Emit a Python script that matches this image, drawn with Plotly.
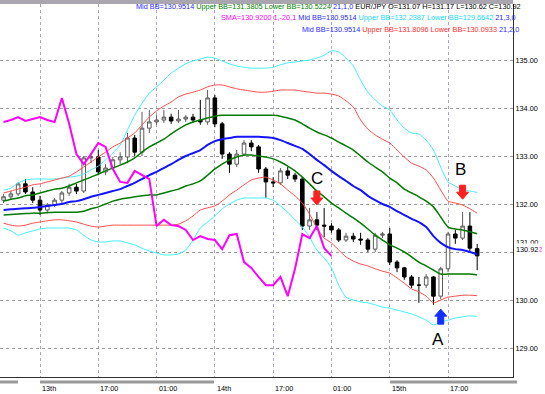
import pandas as pd
import plotly.graph_objects as go

# ---------------- data (EUR/JPY, hourly) ----------------
times = pd.date_range("2008-10-13 04:00", periods=66, freq="h")

opens = [132.08, 132.15, 132.21, 132.42, 132.25, 132.08, 131.875, 131.98, 132.08, 132.23,
         132.35, 132.27, 132.96, 132.98, 132.67, 132.75, 132.92, 132.98, 133.375, 133.08,
         133.58, 133.71, 133.75, 133.81, 133.73, 133.77, 133.81, 133.75, 133.71, 134.21,
         133.67, 133.04, 132.83, 133.04, 133.27, 133.19, 132.73, 132.46, 132.44, 132.69,
         132.60, 132.52, 131.54, 131.67, 131.56, 131.54, 131.46, 131.25, 131.33, 131.27,
         131.25, 131.06, 131.35, 131.375, 130.79, 130.67, 130.48, 130.31, 130.31, 130.48,
         130.08, 130.65, 131.375, 131.29, 131.54, 131.07]
highs = [132.21, 132.27, 132.46, 132.52, 132.35, 132.17, 132.02, 132.12, 132.27, 132.42,
         132.42, 133.00, 133.06, 133.125, 132.83, 132.98, 133.08, 133.48, 133.44, 133.92,
         133.96, 133.85, 133.96, 133.88, 133.96, 133.85, 133.88, 134.17, 134.375, 134.27,
         133.71, 133.08, 133.125, 133.33, 133.33, 133.23, 132.77, 132.56, 132.75, 132.77,
         132.65, 132.56, 131.92, 131.83, 131.92, 131.60, 131.50, 131.40, 131.40, 131.40,
         131.29, 131.40, 131.42, 131.50, 130.83, 130.69, 130.52, 130.48, 130.54, 130.50,
         130.69, 131.42, 131.46, 131.83, 131.83, 131.17]
lows = [132.02, 132.10, 132.17, 132.21, 132.02, 131.77, 131.83, 131.94, 132.02, 132.17,
        132.21, 132.23, 132.85, 132.60, 132.60, 132.71, 132.83, 132.85, 133.00, 133.00,
        133.48, 133.65, 133.69, 133.67, 133.69, 133.71, 133.69, 133.65, 133.65, 133.60,
        132.94, 132.65, 132.77, 133.00, 133.10, 132.65, 132.125, 132.35, 132.40, 132.52,
        132.46, 131.46, 131.46, 131.46, 131.31, 131.40, 131.21, 131.21, 131.21, 131.15,
        131.00, 131.00, 131.29, 130.73, 130.58, 130.42, 130.25, 129.94, 130.25, 129.90,
        130.02, 130.58, 131.17, 131.25, 131.00, 130.62]
closes = [132.15, 132.21, 132.42, 132.25, 132.08, 131.875, 131.98, 132.08, 132.23, 132.35,
          132.27, 132.96, 132.98, 132.67, 132.75, 132.92, 132.98, 133.375, 133.08, 133.58,
          133.71, 133.75, 133.81, 133.73, 133.77, 133.81, 133.75, 133.71, 134.21, 133.67,
          133.04, 132.83, 133.04, 133.27, 133.19, 132.73, 132.46, 132.44, 132.69, 132.60,
          132.52, 131.54, 131.67, 131.56, 131.54, 131.46, 131.25, 131.33, 131.27, 131.25,
          131.06, 131.35, 131.375, 130.79, 130.67, 130.48, 130.31, 130.31, 130.48, 130.08,
          130.65, 131.375, 131.29, 131.54, 131.08, 130.92]

# Bollinger bands (21)
bb_mid = [131.875, 131.89, 131.90, 131.91, 131.92, 131.94, 131.96, 131.98, 132.00, 132.04,
          132.06, 132.10, 132.15, 132.19, 132.23, 132.27, 132.31, 132.375, 132.44, 132.52,
          132.60, 132.67, 132.75, 132.83, 132.92, 133.00, 133.06, 133.125, 133.23, 133.31,
          133.35, 133.375, 133.40, 133.40, 133.40, 133.40, 133.39, 133.375, 133.33, 133.27,
          133.21, 133.15, 133.04, 132.92, 132.81, 132.69, 132.58, 132.48, 132.375, 132.29,
          132.17, 132.08, 132.00, 131.94, 131.85, 131.77, 131.69, 131.625, 131.52, 131.33,
          131.19, 131.10, 131.06, 131.04, 131.00, 130.95]
bb1_up = [132.06, 132.10, 132.125, 132.17, 132.19, 132.23, 132.27, 132.31, 132.33, 132.375,
          132.44, 132.50, 132.56, 132.625, 132.69, 132.75, 132.81, 132.875, 132.96, 133.08,
          133.19, 133.27, 133.35, 133.46, 133.56, 133.65, 133.71, 133.75, 133.79, 133.83,
          133.85, 133.85, 133.85, 133.85, 133.85, 133.85, 133.85, 133.85, 133.83, 133.79,
          133.75, 133.67, 133.58, 133.50, 133.44, 133.375, 133.29, 133.21, 133.125, 133.00,
          132.875, 132.77, 132.67, 132.54, 132.44, 132.31, 132.23, 132.15, 132.06, 131.94,
          131.73, 131.52, 131.48, 131.46, 131.42, 131.38]
bb1_lo = [131.77, 131.78, 131.79, 131.80, 131.81, 131.81, 131.82, 131.83, 131.83, 131.83,
          131.83, 131.85, 131.90, 131.94, 132.00, 132.06, 132.10, 132.125, 132.15, 132.17,
          132.19, 132.19, 132.23, 132.27, 132.31, 132.375, 132.42, 132.48, 132.60, 132.73,
          132.83, 132.92, 132.98, 133.02, 133.02, 133.00, 132.98, 132.94, 132.875, 132.79,
          132.69, 132.56, 132.42, 132.27, 132.15, 132.02, 131.92, 131.81, 131.71, 131.60,
          131.48, 131.35, 131.25, 131.15, 131.08, 131.00, 130.90, 130.79, 130.71, 130.625,
          130.54, 130.54, 130.54, 130.54, 130.54, 130.52]
bb2_up = [132.23, 132.27, 132.31, 132.35, 132.40, 132.42, 132.46, 132.50, 132.54, 132.58,
          132.67, 132.77, 132.875, 132.98, 133.08, 133.19, 133.27, 133.375, 133.48, 133.65,
          133.81, 133.94, 134.04, 134.125, 134.23, 134.29, 134.33, 134.375, 134.44, 134.48,
          134.48, 134.44, 134.40, 134.375, 134.35, 134.33, 134.33, 134.35, 134.375, 134.375,
          134.375, 134.35, 134.33, 134.31, 134.31, 134.29, 134.25, 134.15, 134.02, 133.75,
          133.56, 133.44, 133.35, 133.27, 133.125, 132.98, 132.85, 132.79, 132.71, 132.54,
          132.29, 132.06, 132.02, 131.98, 131.90, 131.81]
bb2_lo = [131.60, 131.56, 131.54, 131.56, 131.60, 131.625, 131.65, 131.67, 131.67, 131.65,
          131.625, 131.58, 131.54, 131.52, 131.54, 131.56, 131.56, 131.56, 131.56, 131.56,
          131.56, 131.56, 131.56, 131.56, 131.58, 131.65, 131.75, 131.875, 131.92, 131.96,
          132.06, 132.19, 132.29, 132.40, 132.50, 132.54, 132.56, 132.50, 132.42, 132.29,
          132.17, 132.02, 131.79, 131.50, 131.29, 131.19, 131.04, 130.90, 130.81, 130.75,
          130.71, 130.65, 130.60, 130.56, 130.46, 130.35, 130.23, 130.17, 130.08, 129.94,
          130.00, 130.06, 130.08, 130.10, 130.10, 130.09]
bb3_up = [132.29, 132.33, 132.44, 132.50, 132.52, 132.52, 132.52, 132.52, 132.54, 132.56,
          132.58, 132.625, 132.71, 132.79, 132.92, 133.06, 133.23, 133.54, 133.85, 134.10,
          134.31, 134.44, 134.58, 134.73, 134.83, 134.92, 134.98, 135.02, 135.06, 135.04,
          134.98, 134.92, 134.875, 134.85, 134.83, 134.83, 134.83, 134.85, 134.90, 134.94,
          134.96, 134.98, 135.00, 135.04, 135.10, 135.19, 135.17, 135.04, 134.875, 134.58,
          134.33, 134.17, 134.04, 133.96, 133.75, 133.58, 133.48, 133.46, 133.33, 133.125,
          132.77, 132.46, 132.375, 132.29, 132.27, 132.24]
bb3_lo = [131.50, 131.44, 131.35, 131.40, 131.44, 131.48, 131.50, 131.50, 131.50, 131.50,
          131.46, 131.35, 131.25, 131.21, 131.21, 131.23, 131.23, 131.19, 131.15, 131.08,
          131.02, 130.98, 130.94, 130.94, 130.96, 131.04, 131.25, 131.50, 131.625, 131.75,
          131.90, 132.00, 132.08, 132.125, 132.125, 132.125, 132.125, 132.08, 131.96, 131.83,
          131.67, 131.52, 131.31, 131.04, 130.875, 130.67, 130.31, 130.06, 130.00, 129.96,
          129.94, 129.90, 129.85, 129.83, 129.79, 129.75, 129.71, 129.65, 129.58, 129.48,
          129.54, 129.58, 129.625, 129.65, 129.67, 129.66]
# SMA(1) shifted -20 bars (magenta line)
sma_shift = [133.71, 133.75, 133.81, 133.73, 133.77, 133.81, 133.75, 133.71, 134.21, 133.67,
             133.04, 132.83, 133.04, 133.27, 133.19, 132.73, 132.46, 132.44, 132.69, 132.60,
             132.52, 131.54, 131.67, 131.56, 131.54, 131.46, 131.25, 131.33, 131.27, 131.25,
             131.06, 131.35, 131.375, 130.79, 130.67, 130.48, 130.31, 130.31, 130.48, 130.08,
             130.65, 131.375, 131.29, 131.54, 131.08, 130.92]

tick_times = pd.date_range("2008-10-13 09:00", periods=8, freq="8h")
tick_text = ["13th", "17:00", "01:00", "14th", "17:00", "01:00", "15th", "17:00"]
price_ticks = [129, 130, 131, 132, 133, 134, 135]
last_price = 130.92

# ---------------- figure ----------------
W, H = 545, 394
ML, MR, MT, MB = 0, 32, 4, 17
PW, PH = W - ML - MR, H - MT - MB
FONT = "Liberation Sans, Arial, sans-serif"
FS = 7.3

BLUE, GREEN, RED, CYAN, MAG = "#2a2aff", "#008000", "#ff3030", "#22d8ff", "#ff00ff"


def px_x(x):
    return (x - ML) / PW


def px_y(y):
    return (H - MB - y) / PH


fig = go.Figure()

fig.add_trace(go.Candlestick(
    x=times, open=opens, high=highs, low=lows, close=closes,
    increasing=dict(line=dict(color="#5a5a5a", width=1), fillcolor="#ffffff"),
    decreasing=dict(line=dict(color="#000000", width=1), fillcolor="#000000"),
    whiskerwidth=0, hoverinfo="skip", showlegend=False,
))

lines = [
    (bb3_up, "#3ef0ff", 1), (bb3_lo, "#3ef0ff", 1),
    (bb2_up, "#ff4a4a", 1), (bb2_lo, "#ff4a4a", 1),
    (bb1_up, "#007a00", 1.5), (bb1_lo, "#007a00", 1.5),
    (bb_mid, "#1414ff", 2),
]
for vals, col, w in lines:
    fig.add_trace(go.Scatter(x=times, y=vals, mode="lines",
                             line=dict(color=col, width=w, shape="spline", smoothing=0.6),
                             hoverinfo="skip", showlegend=False))

fig.add_trace(go.Scatter(x=times[:len(sma_shift)], y=sma_shift, mode="lines",
                         line=dict(color="#ff00ff", width=2),
                         hoverinfo="skip", showlegend=False))

x_start = pd.Timestamp("2008-10-13 03:30:36")
x_end = pd.Timestamp("2008-10-16 01:55:00")

fig.update_layout(
    width=W, height=H,
    margin=dict(l=ML, r=MR, t=MT, b=MB, autoexpand=False),
    paper_bgcolor="white", plot_bgcolor="white",
    font=dict(family=FONT, size=FS, color="black"),
    showlegend=False,
    xaxis=dict(
        type="date", range=[x_start, x_end],
        rangeslider=dict(visible=False),
        tickvals=tick_times, ticktext=tick_text, showticklabels=False,
        showgrid=True, gridcolor="#b4a2c4", griddash="dot", gridwidth=1,
        showline=True, linecolor="#303030", linewidth=1, ticks="",
        zeroline=False,
    ),
    yaxis=dict(
        range=[128.396, 136.167], side="right",
        tickvals=price_ticks,
        ticktext=[f"{v:.2f}" if v != 131 else "" for v in price_ticks],
        showgrid=True, gridcolor="#9a9a9a", griddash="dot", gridwidth=1,
        showline=True, linecolor="#303030", linewidth=1, ticks="",
        tickfont=dict(size=FS, family=FONT, color="black"),
        zeroline=False,
    ),
)

# top hatched strip and bottom date bands
fig.add_shape(type="rect", xref="paper", yref="paper", x0=0, x1=1,
              y0=1, y1=px_y(0), line_width=0, fillcolor="#aaa6b0")
for a, b in [(0, 18), (40, 214), (390, 517)]:
    fig.add_shape(type="rect", xref="paper", yref="paper", x0=px_x(a), x1=px_x(b),
                  y0=px_y(383.5), y1=px_y(380.5), line_width=0, fillcolor="#9a9a9a")

# time labels
for t, lab in zip(tick_times, tick_text):
    fig.add_annotation(x=t, xref="x", y=px_y(388), yref="paper", text=lab,
                       showarrow=False, xanchor="left", yanchor="middle",
                       font=dict(size=FS, family=FONT, color="black"))

# price labels near last price
fig.add_annotation(x=1, xref="paper", y=131.0, yref="y", yshift=10, text="131.00",
                   showarrow=False, xanchor="left", xshift=1, font=dict(size=FS, color="black"))
fig.add_annotation(x=1, xref="paper", y=last_price, yref="y", yshift=6, text=f"{sma_shift[-1]:.2f}",
                   showarrow=False, xanchor="left", xshift=5, font=dict(size=FS, color=MAG))
fig.add_annotation(x=1, xref="paper", y=last_price, yref="y", yshift=6, text=f"{last_price:.2f}",
                   showarrow=False, xanchor="left", xshift=1, bgcolor="white", borderpad=1,
                   font=dict(size=FS, color="black"))


# header text: each line left-anchored, segments coloured
def seg(txt, col):
    return f"<span style='color:{col}'>{txt}</span>"


hdr = [
    (6, 134, [("Mid BB=130.9514 ", BLUE), ("Upper BB=131.3805 Lower BB=130.5224 ", GREEN),
              ("21,1,0 ", BLUE), ("EUR/JPY O=131.07 H=131.17 L=130.62 C=130.92", "#000000")]),
    (17.5, 219, [("SMA=130.9200 ", MAG), ("1,-20,1 ", MAG), ("Mid BB=130.9514 ", BLUE),
                 ("Upper BB=132.2387 Lower BB=129.6642 ", CYAN), ("21,3,0", BLUE)]),
    (29.5, 300, [("Mid BB=130.9514 ", BLUE), ("Upper BB=131.8096 Lower BB=130.0933 ", RED),
                 ("21,2,0", BLUE)]),
]
for y, x0, parts in hdr:
    fig.add_annotation(x=px_x(x0), xref="paper", y=px_y(y), yref="paper",
                       text="".join(seg(t, c) for t, c in parts),
                       showarrow=False, xanchor="left", yanchor="middle",
                       font=dict(size=FS, family=FONT, color="black"))

# signal arrows (block arrows) and letters
down = "M -3,14 L 3,14 L 3,7 L 6,7 L 0,0 L -6,7 L -3,7 Z"
up = "M -3,-15 L 3,-15 L 3,-7 L 6,-7 L 0,0 L -6,-7 L -3,-7 Z"
for t, p, path, col in [(times[43], 131.98, down, "#ff2020"),
                        (times[63], 132.10, down, "#ff2020"),
                        (times[60], 129.81, up, "#1030ff")]:
    fig.add_shape(type="path", xref="x", yref="y", xsizemode="pixel", ysizemode="pixel",
                  xanchor=t, yanchor=p, path=path, fillcolor=col, line=dict(color=col, width=1))

for t, p, lab, dx in [(times[43], 132.54, "C", 0), (times[63], 132.71, "B", -2), (times[60], 129.17, "A", -3)]:
    fig.add_annotation(x=t, y=p, text=lab, showarrow=False, xshift=dx,
                       font=dict(size=17, family=FONT, color="black"))

fig.write_html("out.html", config={"displayModeBar": False},
               post_script="document.body.style.margin='0px';")
